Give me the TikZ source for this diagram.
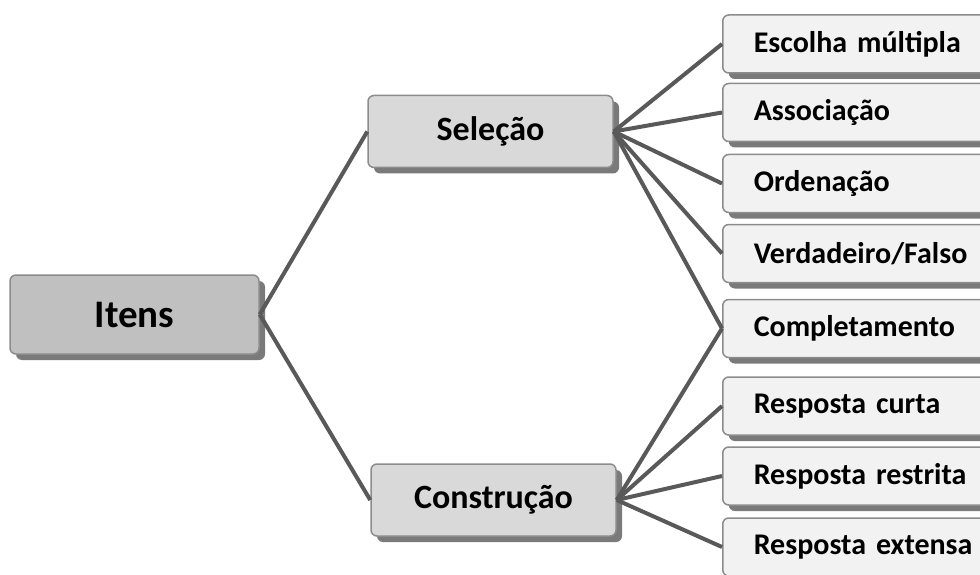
\documentclass[tikz,border=0pt]{standalone}
\usepackage{fontspec}
\setmainfont{Carlito}
\usepackage{xcolor}
\usepackage{tikz}
\usetikzlibrary{shadows,positioning}
\definecolor{linegray}{HTML}{595959}
\definecolor{bordergray}{HTML}{8C8C8C}
\definecolor{shadowgray}{HTML}{7A7A7A}
\definecolor{rootfill}{HTML}{C0C0C0}
\definecolor{midfill}{HTML}{D9D9D9}
\definecolor{leaffill}{HTML}{F2F2F2}

\begin{document}
\begin{tikzpicture}[
  x=1pt,y=-1pt,
  box/.style={draw=bordergray,line width=1.5pt,rounded corners=6pt,
              drop shadow={shadow xshift=6pt,shadow yshift=-6pt,fill=shadowgray,opacity=1}},
  root/.style={box,fill=rootfill,minimum width=249pt,minimum height=79pt,
               font=\bfseries\fontsize{39}{44}\selectfont},
  mid/.style={box,fill=midfill,minimum width=245pt,minimum height=72pt,
              font=\bfseries\fontsize{34}{40}\selectfont},
  leaf/.style={box,fill=leaffill,anchor=west,minimum height=58pt,text width=300pt,
               inner xsep=31pt,align=left,font=\bfseries\fontsize{30}{36}\selectfont},
  link/.style={linegray,line width=4pt}
]
\useasboundingbox (0,0) rectangle (980,575);
\node[root] (itens) at (134.5,314.5) {Itens};
\node[mid] (sel) at (490.5,131.5) {Seleção};
\node[mid] (con) at (493.5,500) {Construção};

\node[leaf] (esc) at (722,44) {Escolha múltipla};
\node[leaf] (assoc) at (722,112.5) {Associação};
\node[leaf] (ord) at (722,183.5) {Ordenação};
\node[leaf] (vf) at (722,253.5) {Verdadeiro/Falso};
\node[leaf] (comp) at (722,328.5) {Completamento};
\node[leaf] (curta) at (722,406) {Resposta curta};
\node[leaf] (restr) at (722,476) {Resposta restrita};
\node[leaf] (ext) at (722,547) {Resposta extensa};

\draw[link] (itens.east) -- (sel.west);
\draw[link] (itens.east) -- (con.west);
\draw[link] (sel.east) -- (esc.west);
\draw[link] (sel.east) -- (assoc.west);
\draw[link] (sel.east) -- (ord.west);
\draw[link] (sel.east) -- (vf.west);
\draw[link] (sel.east) -- (comp.west);
\draw[link] (con.east) -- (comp.west);
\draw[link] (con.east) -- (curta.west);
\draw[link] (con.east) -- (restr.west);
\draw[link] (con.east) -- (ext.west);
\end{tikzpicture}
\end{document}
